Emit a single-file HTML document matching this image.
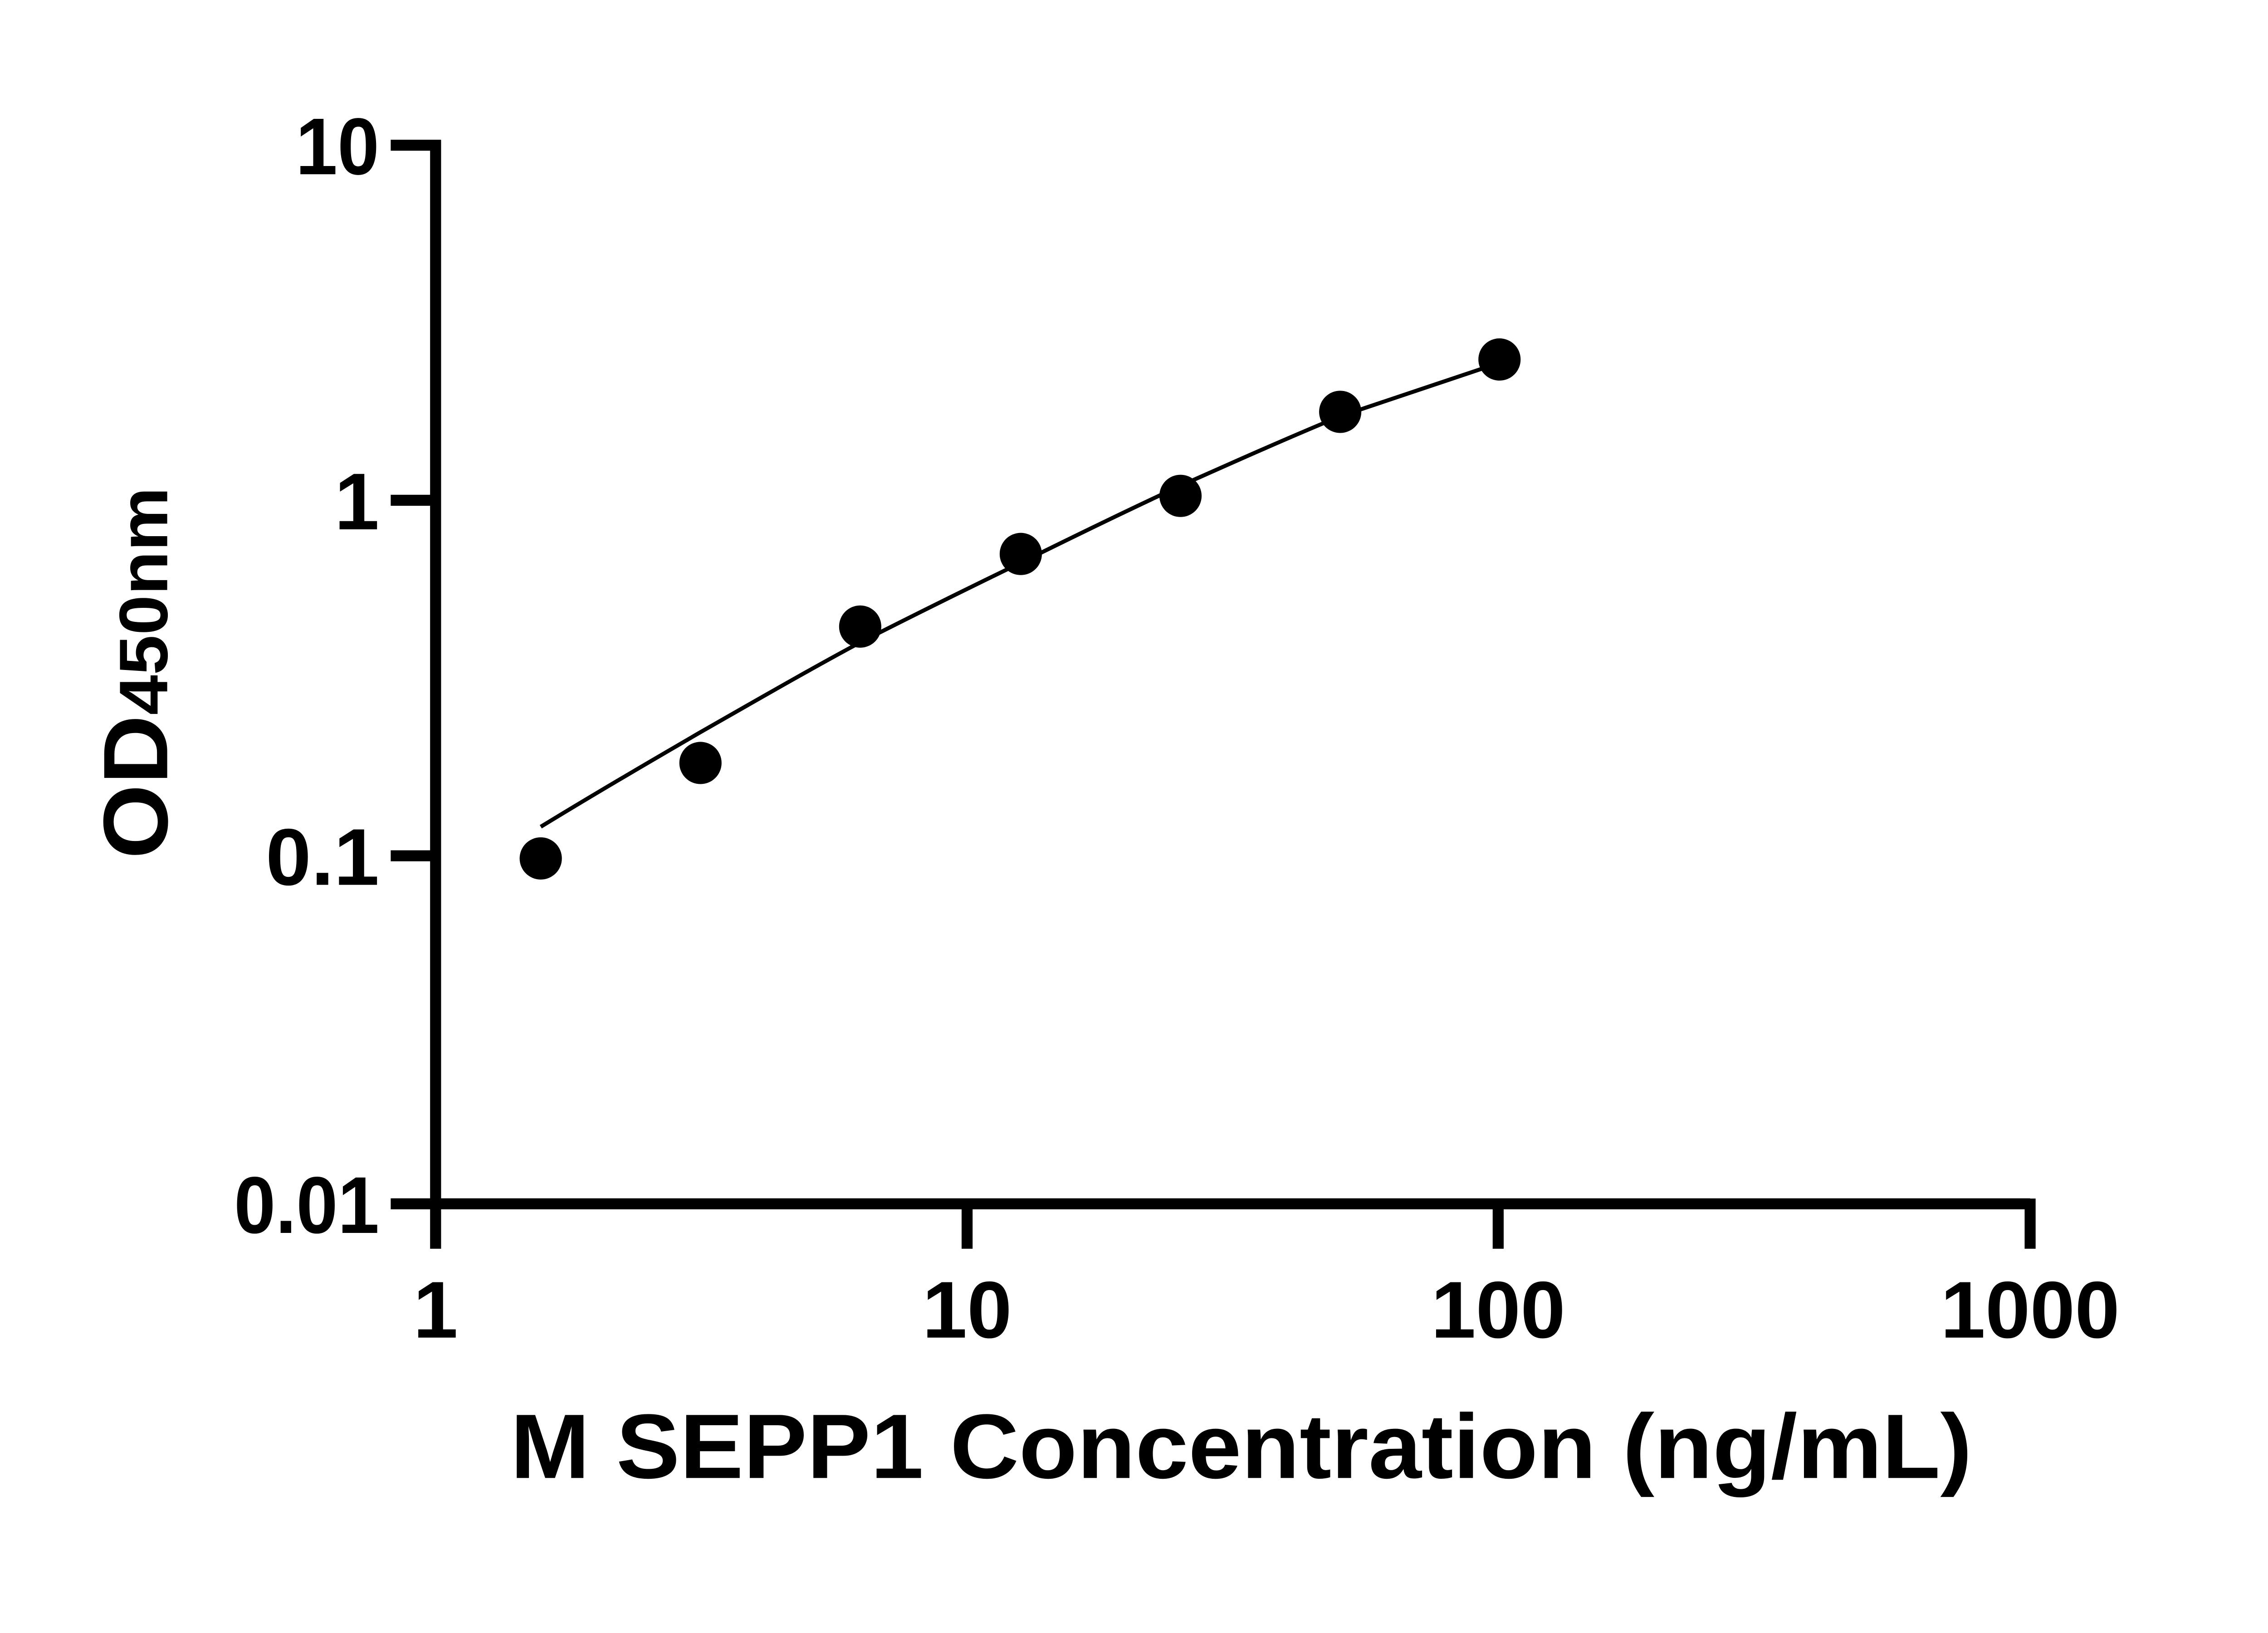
<!DOCTYPE html>
<html><head><meta charset="utf-8"><style>html,body{margin:0;padding:0;background:#fff}svg{display:block}</style></head>
<body>
<svg width="5142" height="3600" viewBox="0 0 5142 3600" xmlns="http://www.w3.org/2000/svg">
<rect width="5142" height="3600" fill="#fff"/>
<g transform="scale(0.97)">
<g stroke="#000" stroke-width="25" fill="none" stroke-linecap="butt">
<line x1="990" y1="318" x2="990" y2="2748"/>
<line x1="978" y1="2736" x2="4614" y2="2736"/>
<line x1="888" y1="330" x2="1002" y2="330"/>
<line x1="888" y1="1137" x2="990" y2="1137"/>
<line x1="888" y1="1945" x2="990" y2="1945"/>
<line x1="888" y1="2736" x2="990" y2="2736"/>
<line x1="990" y1="2736" x2="990" y2="2838"/>
<line x1="2198" y1="2736" x2="2198" y2="2838"/>
<line x1="3405" y1="2736" x2="3405" y2="2838"/>
<line x1="4614" y1="2724" x2="4614" y2="2838"/>
</g>
<g font-family="Liberation Sans, Arial, sans-serif" font-weight="bold" font-size="183" fill="#000">
<text x="862" y="396" text-anchor="end" textLength="190" lengthAdjust="spacingAndGlyphs">10</text>
<text x="862" y="1203" text-anchor="end">1</text>
<text x="862" y="2011" text-anchor="end" textLength="258" lengthAdjust="spacingAndGlyphs">0.1</text>
<text x="862" y="2802" text-anchor="end" textLength="330" lengthAdjust="spacingAndGlyphs">0.01</text>
<text x="990" y="3040" text-anchor="middle">1</text>
<text x="2198" y="3040" text-anchor="middle">10</text>
<text x="3405" y="3040" text-anchor="middle">100</text>
<text x="4614" y="3040" text-anchor="middle">1000</text>
</g>
<text x="1160" y="3359" font-family="Liberation Sans, Arial, sans-serif" font-weight="bold" font-size="208" textLength="3322" lengthAdjust="spacingAndGlyphs" fill="#000">M SEPP1 Concentration (ng/mL)</text>
<text transform="translate(380,1952) rotate(-90)" font-family="Liberation Sans, Arial, sans-serif" font-weight="bold" fill="#000" textLength="845" lengthAdjust="spacingAndGlyphs"><tspan font-size="208">OD</tspan><tspan font-size="156">450nm</tspan></text>
<path d="M1229,1879 C1350,1805 1470,1735 1592,1664 C1713,1595 1834,1525 1955,1460 C2077,1398 2198,1338 2320,1279 C2441,1219 2562,1160 2683,1104 C2804,1050 2925,996 3046,946 C3168,906 3290,865 3368,838" stroke="#000" stroke-width="9" fill="none"/>
<g fill="#000">
<circle cx="1229" cy="1951" r="48"/>
<circle cx="1592" cy="1734" r="48"/>
<circle cx="1955" cy="1424" r="48"/>
<circle cx="2320" cy="1259" r="48"/>
<circle cx="2683" cy="1127" r="48"/>
<circle cx="3046" cy="936" r="48"/>
<circle cx="3408" cy="817" r="48"/>
</g>
</g>
</svg>
</body></html>
